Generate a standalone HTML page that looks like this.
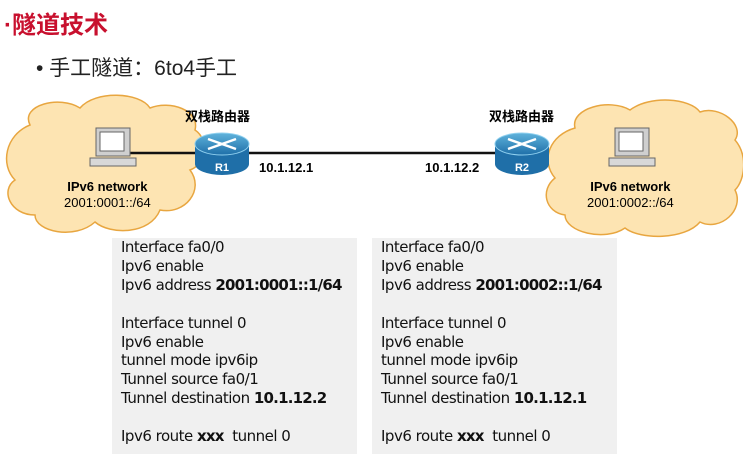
<!DOCTYPE html>
<html><head><meta charset="utf-8"><style>
body{margin:0;width:743px;height:457px;background:#fff;position:relative;overflow:hidden;font-family:"Liberation Sans","Noto Sans CJK SC",sans-serif}
.a{position:absolute;white-space:nowrap}
.box{position:absolute;background:#f0f0f0;top:238px;height:216px;width:245px}
.cfg{position:absolute;font-size:15px;line-height:18.9px;color:#111;font-family:"DejaVu Sans","Liberation Sans",sans-serif;letter-spacing:-0.5px}
.cfg b{letter-spacing:-0.8px}
</style></head><body>
<div class="a" style="left:4px;top:5px;font-size:24px;font-weight:bold;color:#c8102e">·隧道技术</div>
<div class="a" style="left:36px;top:52px;font-size:21px;color:#222">• 手工隧道：6to4手工</div>
<svg width="743" height="457" style="position:absolute;left:0;top:0">
<defs><linearGradient id="rg" x1="0" y1="0" x2="0" y2="1"><stop offset="0" stop-color="#5fb3dc"/><stop offset="1" stop-color="#1f6fa8"/></linearGradient></defs>
<g fill="#fde4b2" stroke="#e8a640" stroke-width="1.5">
<path d="M30,125 C20,105 60,95 80,108 C95,90 140,92 150,108 C170,100 200,110 195,130 C210,140 205,165 190,170 C205,190 185,215 160,210 C150,235 110,235 95,222 C75,240 35,232 35,215 C10,215 0,190 15,180 C0,165 5,135 30,125Z"/>
<path d="M575,128 C570,108 610,98 630,110 C650,95 690,98 700,112 C720,105 745,125 735,140 C748,155 745,180 735,190 C745,210 720,232 700,222 C685,240 640,240 625,228 C605,242 565,232 565,215 C545,212 540,190 555,178 C540,160 550,135 575,128Z"/>
</g>
<line x1="120" y1="153" x2="530" y2="153" stroke="#111" stroke-width="2.5"/>
<g>
<rect x="96" y="128" width="34" height="28" fill="#cfcfcf" stroke="#666"/><rect x="100" y="132" width="24" height="19" fill="#fff" stroke="#666"/>
<rect x="90" y="158" width="46" height="8" fill="#d8d8d8" stroke="#666"/>
<rect x="615" y="128" width="34" height="28" fill="#cfcfcf" stroke="#666"/><rect x="619" y="132" width="24" height="19" fill="#fff" stroke="#666"/>
<rect x="609" y="158" width="46" height="8" fill="#d8d8d8" stroke="#666"/>
</g>
<g>
<path d="M195,144 v20 a27,11 0 0 0 54,0 v-20" fill="#1f6fa8"/><ellipse cx="222" cy="144" rx="27" ry="11" fill="url(#rg)" stroke="#8fd0ef"/>
<path d="M495,144 v20 a27,11 0 0 0 54,0 v-20" fill="#1f6fa8"/><ellipse cx="522" cy="144" rx="27" ry="11" fill="url(#rg)" stroke="#8fd0ef"/>
<g stroke="#fff" stroke-width="2.5"><line x1="208" y1="139" x2="236" y2="149"/><line x1="208" y1="149" x2="236" y2="139"/><line x1="508" y1="139" x2="536" y2="149"/><line x1="508" y1="149" x2="536" y2="139"/></g>
<text x="222" y="171" fill="#fff" font-size="11" font-weight="bold" text-anchor="middle" font-family="Liberation Sans">R1</text>
<text x="522" y="171" fill="#fff" font-size="11" font-weight="bold" text-anchor="middle" font-family="Liberation Sans">R2</text>
</g>
</svg>
<div class="a" style="left:185px;top:106px;font-size:13px;font-weight:bold">双栈路由器</div>
<div class="a" style="left:489px;top:106px;font-size:13px;font-weight:bold">双栈路由器</div>
<div class="a" style="left:259px;top:160px;font-size:13px;font-weight:bold">10.1.12.1</div>
<div class="a" style="left:425px;top:160px;font-size:13px;font-weight:bold">10.1.12.2</div>
<div class="a" style="left:64px;top:179px;font-size:13px;line-height:16px;text-align:center"><b>IPv6 network</b><br>2001:0001::/64</div>
<div class="a" style="left:587px;top:179px;font-size:13px;line-height:16px;text-align:center"><b>IPv6 network</b><br>2001:0002::/64</div>
<div class="box" style="left:112px"></div>
<div class="box" style="left:372px"></div>
<div class="cfg" style="left:121px;top:238px">Interface fa0/0<br>Ipv6 enable<br>Ipv6 address <b>2001:0001::1/64</b><br><br>Interface tunnel 0<br>Ipv6 enable<br>tunnel mode ipv6ip<br>Tunnel source fa0/1<br>Tunnel destination <b>10.1.12.2</b><br><br>Ipv6 route <b>xxx</b>&nbsp; tunnel 0</div>
<div class="cfg" style="left:381px;top:238px">Interface fa0/0<br>Ipv6 enable<br>Ipv6 address <b>2001:0002::1/64</b><br><br>Interface tunnel 0<br>Ipv6 enable<br>tunnel mode ipv6ip<br>Tunnel source fa0/1<br>Tunnel destination <b>10.1.12.1</b><br><br>Ipv6 route <b>xxx</b>&nbsp; tunnel 0</div>
</body></html>
